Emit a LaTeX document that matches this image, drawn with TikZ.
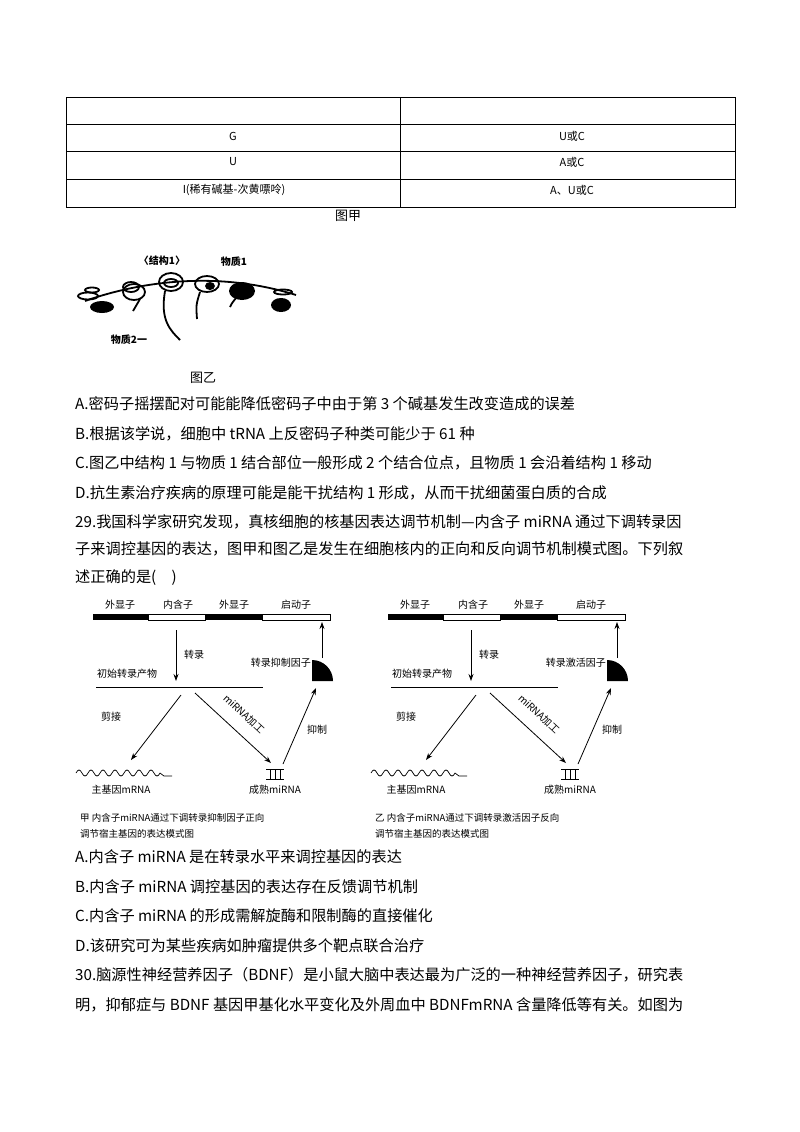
\documentclass[tikz,border=0pt]{standalone}
\usepackage{fontspec}
\setmainfont{Noto Sans CJK SC}
\usetikzlibrary{arrows.meta}
\tikzset{
 body/.style={anchor=west,inner sep=0,font=\fontsize{15.2}{18}\selectfont},
 tab/.style={inner sep=0,font=\fontsize{11}{13}\selectfont},
 lab/.style={inner sep=0,font=\fontsize{10}{12}\selectfont},
 captxt/.style={anchor=west,inner sep=0,font=\fontsize{9.5}{12}\selectfont},
 arr/.style={-{Stealth[length=7pt,width=5pt]},line width=0.8pt},
 blob/.style={line width=1.8pt},
}
\begin{document}
\begin{tikzpicture}[x=1pt,y=-1pt]
\useasboundingbox (0,0) rectangle (800,1132);
% table
\draw[line width=0.6pt] (66,97) rectangle (735,207);
\foreach \y in {124,151,179} \draw[line width=0.6pt] (66,\y)--(735,\y);
\draw[line width=0.6pt] (400,97)--(400,207);
\node[tab] (t1) at (233,136) {G};
\node[tab] (t2) at (572,136) {U或C};
\node[tab] (t3) at (233,162) {U};
\node[tab] (t4) at (572,162) {A或C};
\node[tab] (t5) at (234,190) {I(稀有碱基-次黄嘌呤)};
\node[tab] (t6) at (572,190) {A、U或C};
\node[tab,font=\fontsize{13}{15}\selectfont] (fj) at (348,216) {图甲};
% figure yi
\begin{scope}[blob]
\draw (85,301) .. controls (130,285) and (210,268) .. (296,295);
\draw (88,296) ellipse (10pt and 3.5pt); \draw (92,290) ellipse (7pt and 2.5pt);
\fill (102,307) ellipse (12pt and 6pt);
\draw (134,292) ellipse (11pt and 8pt); \draw (131,287) ellipse (8pt and 5pt);
\draw (171,282) ellipse (12pt and 9pt); \draw (171,283) ellipse (7pt and 4pt);
\draw (207,284) ellipse (12pt and 8pt); \fill (210,286) ellipse (5pt and 4pt);
\fill (242,291) ellipse (13pt and 9pt);
\fill (281,305) ellipse (10pt and 7pt); \draw (283,292) ellipse (9pt and 2.5pt);
\draw (140,299) .. controls (136,306) .. (133,311);
\draw (165,291) .. controls (160,320) and (170,330) .. (180,340);
\draw (200,292) .. controls (196,305) .. (197,319);
\draw (236,298) .. controls (232,303) .. (230,307);
\end{scope}
\node[lab,font=\bfseries\fontsize{10}{12}\selectfont] (jg) at (162,261) {〈结构1〉};
\node[lab,font=\bfseries\fontsize{10}{12}\selectfont] (wz1) at (234,262) {物质1};
\node[lab,font=\bfseries\fontsize{10}{12}\selectfont] (wz2) at (129,340) {物质2一};
\node[tab,font=\fontsize{13}{15}\selectfont] (fy) at (203,378) {图乙};
% text
\node[body] (a1) at (75,404) {A.密码子摇摆配对可能能降低密码子中由于第 3 个碱基发生改变造成的误差};
\node[body] (a2) at (75,434) {B.根据该学说，细胞中 tRNA 上反密码子种类可能少于 61 种};
\node[body] (a3) at (75,463) {C.图乙中结构 1 与物质 1 结合部位一般形成 2 个结合位点，且物质 1 会沿着结构 1 移动};
\node[body] (a4) at (75,493) {D.抗生素治疗疾病的原理可能是能干扰结构 1 形成，从而干扰细菌蛋白质的合成};
\node[body] (q1) at (75,522) {29.我国科学家研究发现，真核细胞的核基因表达调节机制—内含子 miRNA 通过下调转录因};
\node[body] (q2) at (75,549) {子来调控基因的表达，图甲和图乙是发生在细胞核内的正向和反向调节机制模式图。下列叙};
\node[body] (q3) at (75,578) {述正确的是(\quad)};
% two diagrams
\foreach \dx/\fac/\capa in {0/转录抑制因子/甲 内含子miRNA通过下调转录抑制因子正向,295/转录激活因子/乙 内含子miRNA通过下调转录激活因子反向}{
\begin{scope}[xshift=\dx]
\fill (93,614) rectangle (148,620);
\draw (148,614) rectangle (205,620);
\fill (205,614) rectangle (262,620);
\draw (262,614) rectangle (330,620);
\node[lab] at (120,605) {外显子};
\node[lab] at (178,605) {内含子};
\node[lab] at (234,605) {外显子};
\node[lab] at (296,605) {启动子};
\coordinate (s1) at (176,630); \coordinate (s2) at (176,681);
\draw[arr] (s1)--(s2);
\node[lab] at (194,655) {转录};
\node[lab] at (127,674) {初始转录产物};
\draw[line width=0.7pt] (96,687)--(263,687);
\coordinate (c1) at (181,695); \coordinate (c2) at (131,760);
\draw[arr] (c1)--(c2);
\node[lab] at (111,717) {剪接};
\coordinate (m1) at (195,693); \coordinate (m2) at (271,763);
\draw[arr] (m1)--(m2);
\node[lab,rotate=-43] at (244,714) {miRNA加工};
\draw[line width=0.9pt] (266,769)--(284,769) (266,779)--(284,779) (270,769)--(270,779) (275,769)--(275,779) (280,769)--(280,779);
\coordinate (i1) at (283,764); \coordinate (i2) at (316,688);
\draw[arr] (i1)--(i2);
\node[lab] at (317,730) {抑制};
\fill (312,681) -- (312,660) arc (-90:0:21) -- cycle;
\coordinate (u1) at (322,658); \coordinate (u2) at (322,622);
\draw[arr] (u1)--(u2);
\node[lab,anchor=east] at (311,663) {\fac};
\draw[line width=0.7pt] (76,773) \foreach \k in {0,...,6} { .. controls +(2,-4) and +(-2,-4) .. ++(6,0) .. controls +(2,4) and +(-2,4) .. ++(6,0)} -- ++(4,3) -- ++(8,0);
\node[lab] at (121,790) {主基因mRNA};
\node[lab] at (275,790) {成熟miRNA};
\node[captxt] at (80,818) {\capa};
\node[captxt] at (80,834) {调节宿主基因的表达模式图};
\end{scope}}
\node[body] (b1) at (75,857) {A.内含子 miRNA 是在转录水平来调控基因的表达};
\node[body] (b2) at (75,887) {B.内含子 miRNA 调控基因的表达存在反馈调节机制};
\node[body] (b3) at (75,916) {C.内含子 miRNA 的形成需解旋酶和限制酶的直接催化};
\node[body] (b4) at (75,946) {D.该研究可为某些疾病如肿瘤提供多个靶点联合治疗};
\node[body] (r1) at (75,975) {30.脑源性神经营养因子（BDNF）是小鼠大脑中表达最为广泛的一种神经营养因子，研究表};
\node[body] (r2) at (75,1005) {明，抑郁症与 BDNF 基因甲基化水平变化及外周血中 BDNFmRNA 含量降低等有关。如图为};
\end{tikzpicture}
\end{document}
